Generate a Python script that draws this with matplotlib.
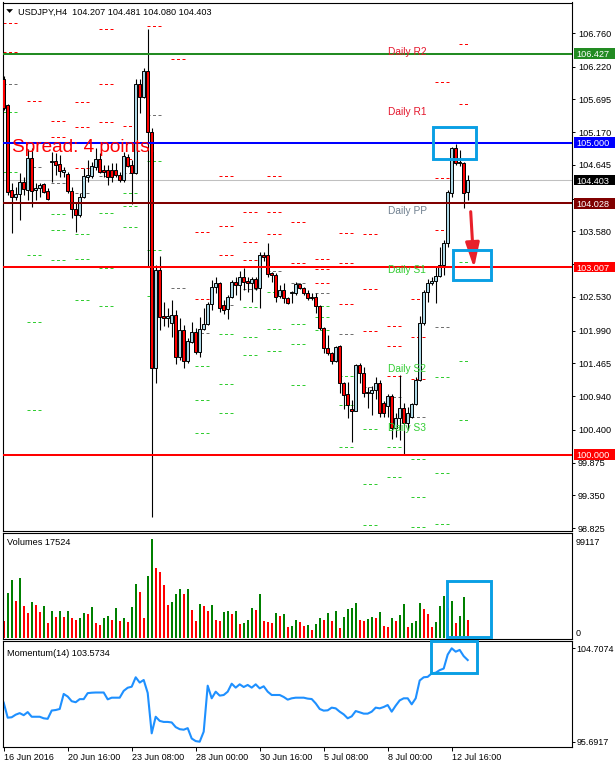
import matplotlib
matplotlib.use("Agg")
import matplotlib.pyplot as plt
from matplotlib.patches import Rectangle, Polygon
from matplotlib.transforms import blended_transform_factory

plt.rcParams["font.family"] = ["Liberation Sans", "DejaVu Sans"]

W, H = 615, 768

# USDJPY H4 bars, first bar = 16 Jun 2016 00:00
opens = [106.023, 105.606, 104.243, 104.131, 104.179, 104.371, 104.243, 104.756, 104.243, 104.275,
         104.339, 104.227, 104.692, 104.708, 104.660, 104.532, 104.500, 104.227, 103.939, 103.842,
         104.131, 104.452, 104.468, 104.612, 104.740, 104.564, 104.564, 104.564, 104.564, 104.484,
         104.403, 104.772, 104.644, 104.516, 105.942, 105.734, 106.151, 105.173, 101.390, 102.961,
         102.223, 102.191, 102.111, 102.239, 101.566, 101.999, 101.502, 101.806, 101.967, 101.646,
         102.015, 102.095, 102.416, 102.688, 102.752, 102.400, 102.335, 102.528, 102.768, 102.720,
         102.848, 102.784, 102.752, 102.816, 102.672, 103.201, 103.201, 102.913, 102.880, 102.544,
         102.640, 102.512, 102.592, 102.592, 102.736, 102.672, 102.592, 102.528, 102.528, 102.384,
         102.031, 101.710, 101.630, 101.502, 101.742, 101.149, 100.973, 100.732, 100.700, 101.438,
         101.309, 101.005, 100.989, 101.037, 101.149, 100.829, 100.780, 100.941, 100.428, 100.588,
         100.748, 100.508, 100.604, 100.813, 101.197, 102.111, 102.608, 102.752, 102.784, 102.864,
         103.041, 103.393, 104.195, 104.916, 104.676, 104.676, 104.207]
highs = [106.071, 105.622, 104.355, 104.291, 104.516, 104.452, 104.900, 104.916, 104.355, 104.355,
         104.355, 104.275, 104.852, 104.836, 104.804, 104.612, 104.532, 104.291, 104.035, 104.195,
         104.596, 104.724, 104.692, 104.916, 104.836, 104.644, 104.644, 104.676, 104.676, 104.532,
         104.852, 104.820, 104.724, 106.023, 106.023, 106.199, 106.824, 105.237, 103.041, 103.185,
         102.448, 102.352, 102.480, 102.319, 102.191, 102.079, 101.871, 102.127, 102.031, 102.207,
         102.352, 102.448, 102.800, 102.848, 102.768, 102.480, 102.560, 102.800, 102.848, 102.945,
         102.993, 102.848, 102.848, 102.848, 103.249, 103.249, 103.393, 102.929, 102.913, 102.720,
         102.752, 102.528, 102.624, 102.768, 102.752, 102.688, 102.640, 102.592, 102.592, 102.400,
         102.047, 101.919, 101.646, 101.742, 101.758, 101.165, 101.165, 100.877, 101.454, 101.470,
         101.406, 101.085, 101.101, 101.245, 101.197, 100.861, 100.973, 100.973, 100.668, 101.277,
         100.829, 100.764, 100.829, 101.245, 102.223, 102.640, 102.816, 102.848, 103.009, 103.329,
         103.442, 104.243, 104.932, 104.981, 104.884, 104.692, 104.481]
lows = [105.526, 104.163, 103.554, 104.083, 103.762, 104.163, 104.083, 103.971, 104.083, 104.131,
        104.195, 104.083, 104.371, 104.484, 104.452, 104.452, 104.195, 103.794, 103.570, 103.810,
        104.115, 104.371, 104.435, 104.564, 104.516, 104.452, 104.323, 104.371, 104.452, 104.371,
        104.371, 104.612, 104.019, 104.500, 105.477, 105.718, 103.009, 99.001, 101.149, 101.999,
        102.063, 102.047, 101.887, 101.454, 101.518, 101.390, 101.470, 101.790, 101.614, 101.566,
        101.999, 102.079, 102.319, 102.592, 102.287, 102.255, 102.175, 102.512, 102.560, 102.480,
        102.640, 102.608, 102.448, 102.640, 102.352, 103.105, 102.848, 102.768, 102.448, 102.512,
        102.432, 102.416, 102.432, 102.560, 102.656, 102.560, 102.480, 102.480, 102.271, 101.999,
        101.630, 101.598, 101.454, 101.486, 100.989, 100.732, 100.588, 100.203, 100.700, 101.149,
        100.925, 100.748, 100.636, 100.893, 100.604, 100.604, 100.604, 100.251, 100.283, 100.235,
        99.995, 100.396, 100.588, 100.796, 101.181, 102.079, 102.448, 102.720, 102.432, 102.848,
        102.880, 103.329, 104.131, 104.644, 104.628, 103.955, 104.080]
closes = [105.558, 104.211, 104.131, 104.179, 104.371, 104.259, 104.756, 104.227, 104.275, 104.323,
          104.211, 104.099, 104.708, 104.644, 104.548, 104.564, 104.227, 103.939, 103.842, 104.131,
          104.468, 104.484, 104.628, 104.740, 104.532, 104.532, 104.452, 104.452, 104.484, 104.403,
          104.788, 104.628, 104.516, 105.942, 105.734, 106.151, 105.173, 101.390, 102.961, 102.207,
          102.191, 102.223, 102.239, 101.566, 101.999, 101.502, 101.822, 101.967, 101.646, 102.015,
          102.095, 102.416, 102.688, 102.752, 102.352, 102.319, 102.528, 102.768, 102.720, 102.848,
          102.768, 102.752, 102.816, 102.672, 103.201, 103.169, 102.897, 102.880, 102.528, 102.640,
          102.512, 102.432, 102.608, 102.736, 102.672, 102.592, 102.512, 102.512, 102.384, 102.031,
          101.710, 101.630, 101.502, 101.726, 101.149, 100.957, 100.796, 100.700, 101.438, 101.309,
          100.989, 100.989, 101.037, 101.149, 100.668, 100.668, 100.941, 100.428, 100.588, 100.748,
          100.508, 100.668, 100.813, 101.197, 102.111, 102.608, 102.752, 102.784, 102.864, 103.041,
          103.393, 104.211, 104.916, 104.676, 104.692, 104.195, 104.403]

volumes = [16900, 45300, 57460, 37180, 59490, 32110, 25010, 36170, 33120, 26030,
           32110, 14870, 27040, 20960, 27040, 20960, 27040, 19940, 17910, 19940,
           25010, 24000, 31100, 14870, 12840, 19940, 21970, 17910, 30080, 16900,
           19940, 15890, 31100, 54420, 46310, 19940, 61520, 99117, 69630, 65570,
           53400, 33120, 36170, 44280, 49350, 44280, 49350, 28050, 16900, 34140,
           32110, 27040, 33120, 17910, 16900, 26030, 26700, 24000, 27040, 13860,
           14870, 17910, 30080, 28050, 44280, 16900, 15890, 14870, 25010, 21970,
           24000, 10820, 11830, 17910, 15890, 11830, 12840, 7770, 13860, 19940,
           17910, 25010, 16900, 27040, 9800, 20960, 28390, 29740, 35150, 17910,
           16900, 18930, 20960, 19940, 26030, 11830, 10820, 19940, 16900, 22980,
           34140, 10820, 14870, 16900, 35150, 28820, 23800, 10745, 15770, 31830,
           41875, 30000, 36850, 14760, 21790, 40870, 17524]

momentum = [99.46, 98.01, 98.05, 98.30, 98.45, 98.25, 98.55, 98.10, 98.10, 98.10,
            97.95, 97.90, 98.70, 98.75, 98.85, 100.30, 100.05, 99.60, 99.50, 99.80,
            99.80, 100.38, 100.42, 100.44, 100.44, 100.44, 99.78, 99.94, 99.94, 99.94,
            100.60, 100.90, 101.00, 101.91, 101.40, 101.65, 100.40, 96.50, 98.10, 97.70,
            97.60, 97.60, 97.55, 97.10, 96.90, 96.85, 97.00, 96.00, 95.75, 95.6917,
            96.66, 101.10, 99.88, 100.52, 100.14, 100.20, 100.52, 101.29, 100.91, 101.23,
            100.97, 101.17, 100.91, 101.23, 100.84, 101.04, 100.52, 100.20, 100.20, 100.20,
            100.01, 99.75, 99.88, 99.94, 99.94, 99.94, 99.85, 99.81, 99.39, 98.85,
            98.69, 98.72, 98.98, 98.91, 98.59, 98.33, 97.95, 98.14, 98.65, 98.53,
            98.40, 98.40, 98.59, 98.98, 98.91, 99.04, 99.23, 98.59, 99.17, 99.68,
            99.88, 99.88, 99.30, 99.88, 101.60, 101.91, 101.95, 102.29, 102.35, 102.60,
            102.75, 104.10, 104.7074, 104.38, 104.55, 103.95, 103.5734]

# daily pivot levels (one list per trading day, 6 bars per day)
pivot_res = [[106.920, 106.455], [105.670], [105.349, 105.093], [105.654, 105.253, 104.596],
             [106.824, 105.942, 105.333], [105.269, 104.740], [106.872], [106.343],
             [103.570, 102.496], [104.468, 103.666, 103.201], [103.890, 103.410, 103.121],
             [104.468, 103.890, 103.538], [103.730, 103.073], [103.137, 102.977, 102.752],
             [103.554, 103.073, 102.416], [103.538, 102.656, 101.983], [102.063, 101.742, 101.261],
             [102.496, 101.887, 101.213], [105.975, 104.435, 103.602], [106.580, 105.622]]
pivot_pp = [105.942, 104.612, 104.355, 104.195, 104.468, 104.520, 105.445, 102.672, 101.951, 102.400,
            102.656, 102.945, 102.752, 102.592, 101.935, 101.090, 100.925, 100.604, 102.047, 104.030]
pivot_sup = [[105.490, 104.532], [103.201, 102.127, 100.716], [103.858, 103.602, 103.121],
             [103.538, 103.137, 102.480], [103.874, 102.993, 102.384], [104.195, 103.987, 103.650],
             [104.708, 103.280, 102.544], [], [101.420, 100.877, 100.348],
             [101.935, 101.133, 100.668], [102.367, 101.887, 101.598], [102.608, 102.015, 101.662],
             [102.095, 101.774, 101.117], [102.384, 102.207, 101.999], [101.261, 100.796, 100.123],
             [100.412, 99.530, 98.870], [100.123, 99.642], [99.931, 99.320, 98.840],
             [101.245, 99.706, 98.889], [103.090, 101.500, 100.560]]

# horizontal lines with price tags
h_levels = [106.427, 105.000, 104.403, 104.028, 103.007, 100.000]
h_colors = ["#228b22", "#0000ff", "#c0c0c0", "#800000", "#ff0000", "#ff0000"]
tag_colors = ["#228b22", "#0000ff", "#000000", "#800000", "#ff0000", "#ff0000"]

# scale labels; the two hidden behind price tags are left blank
price_ticks = [98.825, 99.350, 99.875, 100.400, 100.940, 101.465, 101.990, 102.530,
               103.055, 103.580, 104.105, 104.645, 105.170, 105.695, 106.220, 106.760]
hidden_ticks = [103.055, 104.105]
date_ticks = [0, 16, 32, 48, 64, 80, 96, 112]
date_labels = ["16 Jun 2016", "20 Jun 16:00", "23 Jun 08:00", "28 Jun 00:00",
               "30 Jun 16:00", "5 Jul 08:00", "8 Jul 00:00", "12 Jul 16:00"]

fig = plt.figure(figsize=(W / 100, H / 100), dpi=100)


def px_axes(left, top, right, bottom):
    return fig.add_axes([left / W, 1 - bottom / H, (right - left) / W, (bottom - top) / H])


def px_text(x, y, s, **kw):
    fig.text(x / W, 1 - y / H, s, **kw)


def px_box(left, top, right, bottom, color="#0a9fe4"):
    fig.add_artist(Rectangle((left / W, 1 - bottom / H), (right - left) / W, (bottom - top) / H,
                             transform=fig.transFigure, fill=False, ec=color, lw=2.1, zorder=20))


ax = px_axes(2.5, 2.5, 572.3, 531)
ax_v = px_axes(2.5, 533.3, 572.3, 639)
ax_m = px_axes(2.5, 641.3, 572.3, 747)

n = len(closes)
x = list(range(n))
for a in (ax, ax_v, ax_m):
    a.set_xlim(-0.3, 142.15)
    for s in a.spines.values():
        s.set_linewidth(0.8)

# ---- main price panel
ax.set_ylim(98.777, 107.249)

dash = (0, (3.0, 2.5))
for d in range(len(pivot_pp)):
    start = 6 * d - 0.15
    end = min(start + 3.6, n - 1)
    for lvl in pivot_res[d]:
        ax.hlines(lvl, start, end, colors="#ff0000", linestyles=dash, lw=0.72, zorder=1)
    ax.hlines(pivot_pp[d], start, end, colors="#707070", linestyles=dash, lw=0.72, zorder=1)
    for lvl in pivot_sup[d]:
        ax.hlines(lvl, start, end, colors="#32cd32", linestyles=dash, lw=0.72, zorder=1)

ax.axhline(h_levels[2], color=h_colors[2], lw=0.75, zorder=1.5)

ax.vlines(x, lows, highs, color="black", lw=0.8, zorder=3)
bottoms = [min(o, c) for o, c in zip(opens, closes)]
heights = [abs(c - o) for o, c in zip(opens, closes)]
fills = ["#add8e6" if c >= o else "#ff0000" for o, c in zip(opens, closes)]
ax.bar(x, heights, bottom=bottoms, width=0.62, color=fills, edgecolor="black",
       linewidth=0.7, zorder=3.5)

for lvl, c in zip(h_levels, h_colors):
    if lvl != h_levels[2]:
        ax.axhline(lvl, color=c, lw=1.45, zorder=4)

ax.yaxis.tick_right()
ax.set_yticks(price_ticks)
ax.set_yticklabels(["" if v in hidden_ticks else f"{v:.3f}" for v in price_ticks])
ax.tick_params(axis="y", length=2.5, width=0.7, labelsize=6.6, pad=1.6)
ax.set_xticks([])

trans = blended_transform_factory(ax.transAxes, ax.transData)
for lvl, c in zip(h_levels, tag_colors):
    ax.add_patch(Rectangle((1 + 1.7 / 569.8, lvl - 0.085), 42 / 569.8, 0.17, transform=trans,
                           fc=c, ec="none", clip_on=False, zorder=10))
    ax.text(1 + 4.0 / 569.8, lvl, f"{lvl:.3f}", transform=trans, color="white", fontsize=6.6,
            va="center_baseline", ha="left", clip_on=False, zorder=11)

# day labels for the current pivot set
day_names = ["Daily R2", "Daily R1", "Daily PP", "Daily S1", "Daily S2", "Daily S3"]
day_vals = pivot_res[-1] + [pivot_pp[-1]] + pivot_sup[-1]
day_cols = ["#e4162c", "#e4162c", "#708090", "#32cd32", "#32cd32", "#32cd32"]
for name, lvl, c in zip(day_names, day_vals, day_cols):
    ax.annotate(name, (96.1, lvl), xytext=(0, -5.1), textcoords="offset points",
                color=c, fontsize=7.3, va="center_baseline", ha="left", zorder=6)

# title and spread text
fig.add_artist(Polygon([[6.7 / W, 1 - 9.3 / H], [12.5 / W, 1 - 9.3 / H], [9.6 / W, 1 - 12.6 / H]],
                       closed=True, transform=fig.transFigure, fc="black", ec="black", lw=0.3))
px_text(18.3, 11.2, "USDJPY,H4  104.207 104.481 104.080 104.403", fontsize=6.6,
        va="center_baseline", color="black")
px_text(12.5, 151.5, "Spread: 4 points.", fontsize=13.7, color="#ff0000", va="baseline", zorder=8)

# ---- volumes panel
vol_colors = ["#ff0000"] + ["#008000" if volumes[i] > volumes[i - 1] else "#ff0000"
                            for i in range(1, n)]
ax_v.bar(x, volumes, width=0.55, color=vol_colors, zorder=2)
ax_v.set_ylim(-1300, 104840)
ax_v.set_xticks([])
ax_v.set_yticks([])
px_text(7.3, 545.2, f"Volumes {volumes[-1]}", fontsize=6.6, va="baseline")
px_text(576, 544.8, "99117", fontsize=6.5, va="baseline")
px_text(576, 635.5, "0", fontsize=6.5, va="baseline")

# ---- momentum panel
ax_m.plot(x, momentum, color="#1e90ff", lw=1.5, zorder=2)
ax_m.set_ylim(95.18, 105.383)
ax_m.yaxis.tick_right()
ax_m.set_yticks([95.6917, 104.7074])
ax_m.set_yticklabels(["95.6917", "104.7074"])
ax_m.tick_params(axis="y", length=2.0, width=0.7, labelsize=6.4, pad=1.0)
ax_m.set_xticks(date_ticks)
ax_m.set_xticklabels(date_labels, ha="left")
ax_m.tick_params(axis="x", length=3.2, width=0.7, labelsize=6.5, pad=1.0)
px_text(7.3, 655.5, f"Momentum(14) {momentum[-1]:.4f}", fontsize=6.6, va="baseline")

# ---- highlight boxes and arrow
px_box(433.3, 126.7, 476.3, 159)
px_box(453.3, 250.5, 491, 280)
px_box(446.7, 580.7, 491, 636.7)
px_box(430.7, 640.7, 476.7, 672.7)
ax.annotate("", xy=(474, H - 268), xycoords="figure pixels",
            xytext=(470.7, H - 211.7), textcoords="figure pixels",
            arrowprops=dict(arrowstyle="-|>,head_length=1.5,head_width=0.42",
                            color="#e8202a", lw=2.2, mutation_scale=10, shrinkA=0, shrinkB=0),
            zorder=9)

fig.savefig("out.png", dpi=100)
